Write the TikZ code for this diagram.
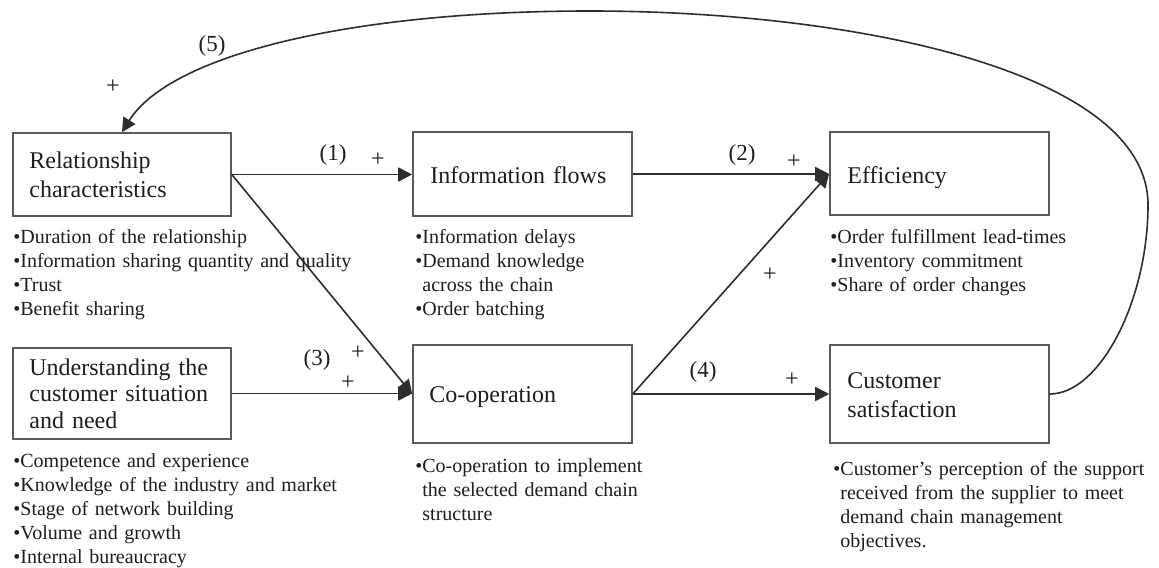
\documentclass[tikz,border=0pt]{standalone}
\usepackage{fontspec}
\setmainfont{Liberation Serif}
\usetikzlibrary{arrows.meta}
\definecolor{boxgray}{HTML}{5A5A5A}
\definecolor{linegray}{HTML}{2E2E2E}
\definecolor{inkgray}{HTML}{1E1E1E}
\begin{document}
\begin{tikzpicture}[x=0.5pt,y=-0.5pt,
  box/.style={draw=boxgray,line width=0.8pt,inner sep=0pt},
  title/.style={anchor=base west,inner sep=0pt,text=inkgray,
    font=\fontsize{12}{14.5}\selectfont,text width=100pt,align=left},
  items/.style={anchor=base west,inner sep=0pt,text=inkgray,
    font=\fontsize{10}{12}\selectfont,text width=185pt,align=left},
  link/.style={draw=linegray,line width=0.8pt,-{Triangle[length=7pt,width=7pt]}},
  tag/.style={inner sep=0pt,text=inkgray,font=\fontsize{11.5}{13}\selectfont},
  sign/.style={inner sep=0pt,text=inkgray,font=\fontsize{12}{13}\selectfont}]

\fill[white] (0,0) rectangle (1159,567);
\useasboundingbox (0,0) rectangle (1159,567);

% construct boxes
\node[box,minimum width=109pt,minimum height=41.5pt] (rel)  at (122,174.5) {};
\node[box,minimum width=109.5pt,minimum height=42pt] (info) at (522.5,174) {};
\node[box,minimum width=109.5pt,minimum height=41.5pt] (eff) at (939.5,173.5) {};
\node[box,minimum width=109pt,minimum height=45.5pt] (und)  at (122,393.5) {};
\node[box,minimum width=109.5pt,minimum height=49pt] (coop) at (522.5,394) {};
\node[box,minimum width=109.5pt,minimum height=49pt] (cust) at (939.5,394) {};

% box titles
\node[title] (relT)  at (29,168)  {Relationship\\characteristics};
\node[title] (infoT) at (430,183) {Information flows};
\node[title] (effT)  at (847,183) {Efficiency};
\node[title,font=\fontsize{12}{13.25}\selectfont] (undT) at (29,375)
  {Understanding the\\customer situation\\and need};
\node[title] (coopT) at (429,402) {Co-operation};
\node[title] (custT) at (847,388) {Customer\\satisfaction};

% measured items under each construct
\node[items] (relI) at (13,243) {•Duration of the relationship\\
  •Information sharing quantity and quality\\•Trust\\•Benefit sharing};
\node[items] (infoI) at (415,243) {•Information delays\\•Demand knowledge\\
  \phantom{•}across the chain\\•Order batching};
\node[items] (effI) at (830,243) {•Order fulfillment lead-times\\
  •Inventory commitment\\•Share of order changes};
\node[items] (undI) at (13,467) {•Competence and experience\\
  •Knowledge of the industry and market\\•Stage of network building\\
  •Volume and growth\\•Internal bureaucracy};
\node[items] (coopI) at (415,472) {•Co-operation to implement\\
  \phantom{•}the selected demand chain\\\phantom{•}structure};
\node[items] (custI) at (833,475) {•Customer’s perception of the support\\
  \phantom{•}received from the supplier to meet\\
  \phantom{•}demand chain management\\\phantom{•}objectives.};

% causal links
\draw[link] (rel.east) -- (rel.east -| info.west);
\draw[link] (info.east) -- (info.east -| eff.west);
\draw[link] (rel.east) -- (coop.west);
\draw[link] (und.east) -- (und.east -| coop.west);
\draw[link] (coop.east) -- (eff.west);
\draw[link] (coop.east) -- (coop.east -| cust.west);
\draw[link] (cust.east) .. controls (1100,394) and (1148,300) .. (1148,205)
  .. controls (1148,70) and (850,11) .. (590,11)
  .. controls (350,11) and (170,55) .. (rel.north);

% link labels
\node[tag]  (l1)  at (333,155) {(1)};
\node[sign] (p1)  at (378,160) {+};
\node[tag]  (l2)  at (742,155) {(2)};
\node[sign] (p2)  at (794,162) {+};
\node[sign] (p2b) at (770,275) {+};
\node[tag]  (l3)  at (317,360) {(3)};
\node[sign] (p3a) at (358,353) {+};
\node[sign] (p3b) at (348,383) {+};
\node[tag]  (l4)  at (703,372) {(4)};
\node[sign] (p4)  at (792,380) {+};
\node[tag]  (l5)  at (212,46)  {(5)};
\node[sign] (p5)  at (113,87)  {+};
\end{tikzpicture}
\end{document}
